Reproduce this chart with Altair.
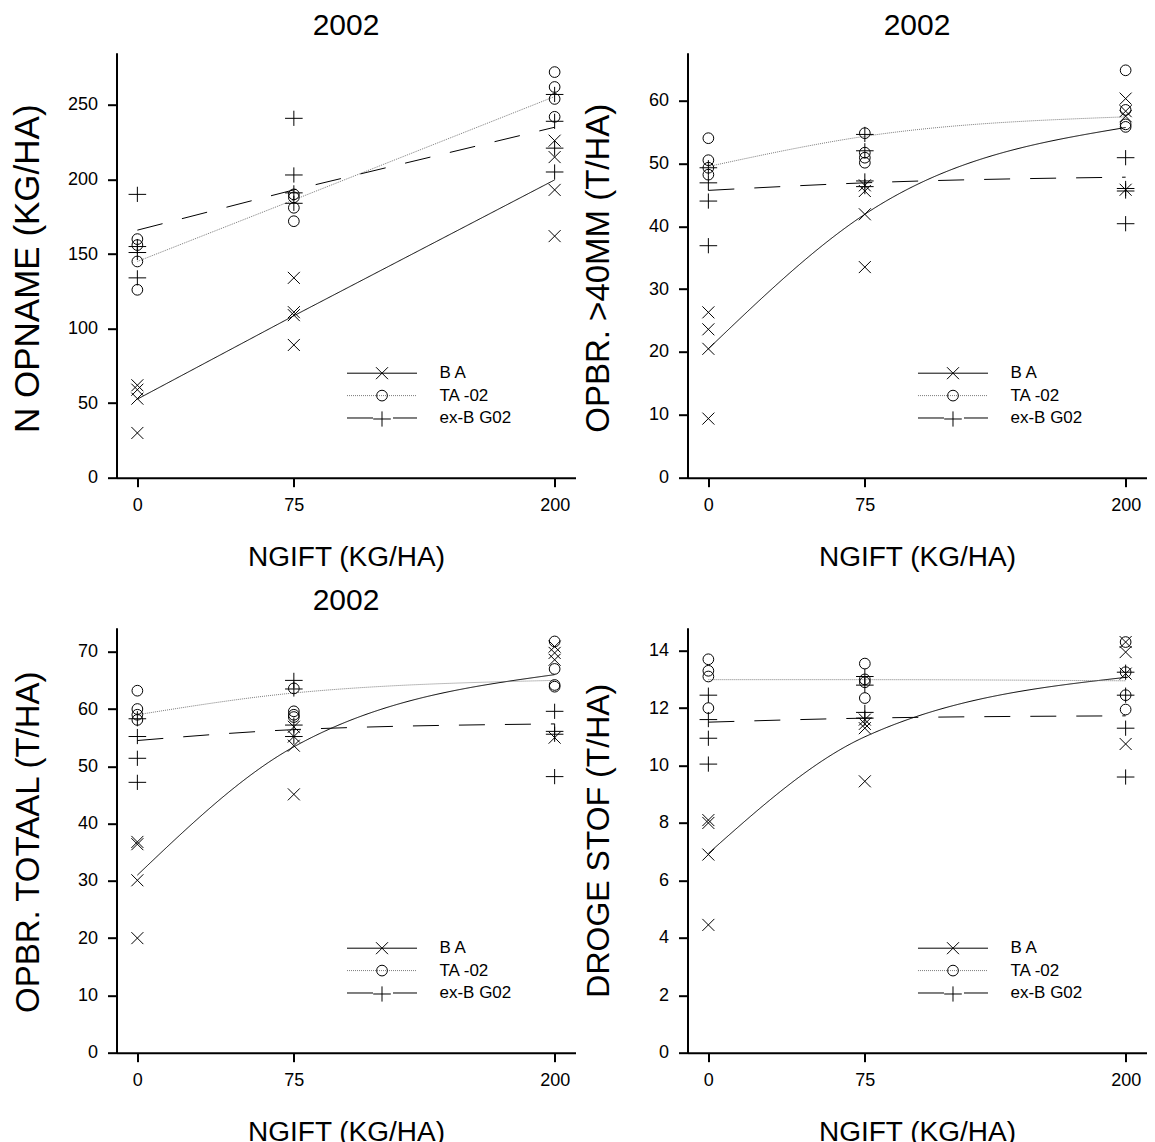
import altair as alt
import pandas as pd

FONT = "Liberation Sans"
SERIES = ["B A", "TA -02", "ex-B G02"]
NGIFT = [0, 75, 200]

# ---- observed values, per series, per N level (0, 75, 200) ----
nop_ba = [[62, 59, 53, 30], [134, 111, 109, 89], [226, 215, 193, 162]]
nop_ta = [[160, 156, 145, 126], [190, 188, 181, 172], [272, 262, 254, 242]]
nop_bg = [[190, 155, 151, 134], [241, 203, 191, 184], [257, 239, 221, 205]]

o40_ba = [[26.3, 23.6, 20.5, 9.4], [46.5, 45.6, 41.9, 33.5], [60.3, 58.3, 57.5, 45.8]]
o40_ta = [[54.0, 50.5, 49.3, 48.2], [54.8, 51.7, 50.9, 50.1], [64.8, 58.5, 56.2, 55.8]]
o40_bg = [[49.3, 46.9, 44.0, 36.9], [54.6, 52.0, 47.2, 46.3], [50.9, 46.0, 45.6, 40.4]]

tot_ba = [[36.8, 36.4, 30.1, 20.0], [56.9, 55.2, 53.6, 45.1], [70.9, 69.8, 68.6, 55.0]]
tot_ta = [[63.2, 60.0, 59.0, 58.1], [63.6, 59.6, 59.0, 58.6], [71.8, 67.0, 64.2, 63.9]]
tot_bg = [[58.3, 55.2, 51.4, 47.2], [65.0, 63.5, 57.2, 55.2], [59.6, 56.1, 55.6, 48.2]]

ds_ba = [[8.1, 8.0, 6.9, 4.45], [11.6, 11.45, 11.3, 9.45], [14.3, 13.95, 13.2, 10.75]]
ds_ta = [[13.7, 13.3, 13.1, 12.0], [13.55, 13.0, 12.9, 12.35], [14.3, 13.25, 12.45, 11.95]]
ds_bg = [[12.45, 11.6, 10.95, 10.05], [13.1, 12.8, 11.85, 11.65], [13.25, 12.45, 11.3, 9.6]]

# ---- fitted curves read at N = 0, 75, 200 ----
nop_fit = [[52.7, 108.6, 199.7], [145.0, 186.3, 255.6], [166.0, 193.0, 235.0]]
o40_fit = [[20.5, 41.9, 55.7], [49.5, 54.3, 57.4], [45.7, 46.9, 47.8]]
tot_fit = [[31.0, 53.4, 66.0], [59.0, 62.8, 65.0], [54.5, 56.4, 57.4]]
ds_fit = [[6.94, 11.0, 13.07], [12.99, 12.99, 12.95], [11.51, 11.65, 11.73]]

X_PATH = "M-0.75,-0.75L0.75,0.75M-0.75,0.75L0.75,-0.75"
O_PATH = "M0.67,0A0.67,0.67 0 1,1 -0.67,0A0.67,0.67 0 1,1 0.67,0Z"
P_PATH = "M-1.1,0L1.1,0M0,-0.95L0,0.95"

W, H = 459, 425

axis_common = dict(
    domainColor="black", domainWidth=2, tickColor="black", tickWidth=2, tickSize=9,
    labelFont=FONT, labelFontSize=18, labelColor="black",
    titleFont=FONT, titleFontWeight="normal", titleColor="black",
    titleBaseline="alphabetic", grid=False,
)

legend_common = dict(
    orient="none", legendX=230, legendY=312, title=None, padding=0,
    labelFont=FONT, labelFontSize=17, labelColor="black", labelLimit=0,
    symbolOffset=27, labelOffset=49, rowPadding=4.4, symbolStrokeWidth=1,
)


def build(obs, fit, ytitle, yfont, ytitle_y, ymax, yticks, title, interp):
    rows = []
    for s, series_obs in zip(SERIES, obs):
        for n, vals in zip(NGIFT, series_obs):
            for v in vals:
                rows.append({"ngift": n, "waarde": v, "reeks": s})
    pts = pd.DataFrame(rows)
    frows = [{"ngift": n, "waarde": v, "reeks": s}
             for s, f in zip(SERIES, fit) for n, v in zip(NGIFT, f)]
    fits = pd.DataFrame(frows)

    x = alt.X("ngift:Q",
              scale=alt.Scale(domain=[-10, 210], nice=False, zero=False),
              axis=alt.Axis(values=NGIFT, title="NGIFT (KG/HA)", titleFontSize=28,
                            titleY=88, labelPadding=10, **axis_common))
    y = alt.Y("waarde:Q",
              scale=alt.Scale(domain=[0, ymax], nice=False),
              axis=alt.Axis(values=yticks, title=ytitle, titleFontSize=yfont, titleAngle=270,
                            titleX=-78.5, titleY=ytitle_y, titleAlign="center",
                            labelPadding=10, **axis_common))

    line_leg = alt.Legend(symbolType="M-5,0L5,0", symbolSize=196, **legend_common)
    lines = alt.Chart(fits).mark_line(interpolate=interp, strokeWidth=1).encode(
        x=x, y=y,
        color=alt.Color("reeks:N", scale=alt.Scale(range=["black", "#7a7a7a", "black"]),
                        legend=line_leg),
        strokeDash=alt.StrokeDash("reeks:N", scale=alt.Scale(range=[[1, 0], [1, 1], [26, 20]]),
                                  legend=line_leg),
    )
    points = alt.Chart(pts).mark_point(filled=False, color="black", size=256,
                                       strokeWidth=1, opacity=1).encode(
        x=x, y=y,
        shape=alt.Shape("reeks:N", scale=alt.Scale(range=[X_PATH, O_PATH, P_PATH]),
                        legend=alt.Legend(symbolSize=256, labelOpacity=0, **legend_common)),
    )
    layer = alt.layer(lines, points).properties(width=W, height=H)
    if title:
        layer = layer.properties(title=alt.TitleParams(
            text=title, fontSize=30, font=FONT, fontWeight="normal", color="black",
            anchor="middle", frame="group", baseline="alphabetic", offset=16.5, dy=29.2))
    return layer


p1 = build([nop_ba, nop_ta, nop_bg], nop_fit, "N OPNAME   (KG/HA)", 35, 215.5, 285,
           [0, 50, 100, 150, 200, 250], "2002", "linear")
p2 = build([o40_ba, o40_ta, o40_bg], o40_fit, "OPBR. >40MM (T/HA)", 33, 215, 67.6,
           [0, 10, 20, 30, 40, 50, 60], "2002", "monotone")
p3 = build([tot_ba, tot_ta, tot_bg], tot_fit, "OPBR. TOTAAL (T/HA)", 33, 214, 74.2,
           [0, 10, 20, 30, 40, 50, 60, 70], "2002", "monotone")
p4 = build([ds_ba, ds_ta, ds_bg], ds_fit, "DROGE STOF (T/HA)", 32, 212.5, 14.8,
           [0, 2, 4, 6, 8, 10, 12, 14], None, "monotone")

chart = alt.concat(p1, p2, p3, p4, columns=2, spacing={"row": 150, "column": 112},
                   bounds="flush").resolve_scale(
    x="independent", y="independent", color="independent",
    strokeDash="independent", shape="independent",
).resolve_legend(
    color="independent", strokeDash="independent", shape="independent",
).properties(
    padding={"left": 1.5, "top": 2.7, "right": 0, "bottom": 0},
).configure(font=FONT).configure_view(stroke="transparent", strokeWidth=0)

chart.save("out.html", embed_options={"renderer": "svg", "actions": False})
